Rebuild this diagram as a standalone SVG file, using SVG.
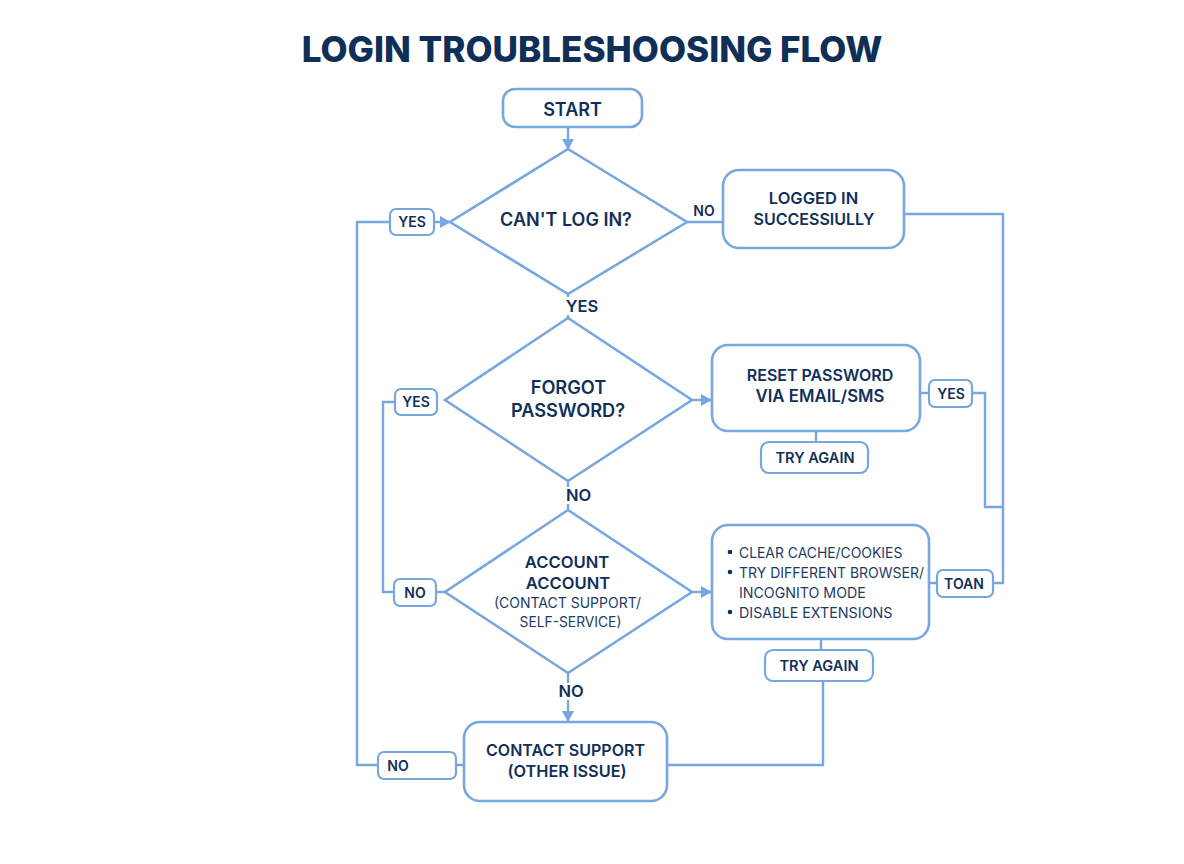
<svg xmlns="http://www.w3.org/2000/svg" width="1184" height="864" viewBox="0 0 1184 864">
<style>
.n{fill:#fff;stroke:#76a7de;stroke-width:2.6}
.l{fill:#fff;stroke:#76a7de;stroke-width:2.2}
.c{fill:none;stroke:#76a7de;stroke-width:2.4}
.a{fill:#76a7de}
text{font-family:Inter,"Liberation Sans",sans-serif;fill:#10305a;text-anchor:middle}
.b{font-weight:600;font-size:16px}
.s{font-weight:600;font-size:14px}
.t{font-weight:600;font-size:14.6px}
.r{font-weight:400;font-size:13.9px;text-anchor:start;fill:#1d3c63}
.q{font-weight:400;font-size:13.8px;fill:#1d3c63}
</style>
<defs><marker id="ah" markerWidth="12" markerHeight="12" refX="10" refY="6" orient="auto" markerUnits="userSpaceOnUse"><path class="a" d="M0 0L11 6L0 12Z"/></marker></defs>
<rect width="1184" height="864" fill="#fff"/>
<text id="title" x="592" y="62" font-size="35.05" font-weight="800" style="fill:#0f2f57">LOGIN TROUBLESHOOSING FLOW</text>
<g id="connectors">
<path class="c" marker-end="url(#ah)" d="M568 127V149"/>
<path class="c" marker-end="url(#ah)" d="M434 222H450"/>
<path class="c" d="M390 222H357V765H378"/>
<path class="c" d="M687 222H723"/>
<path class="c" d="M568 294V318"/>
<path class="c" d="M904 214H1003V583H993"/>
<path class="c" d="M972 393H985V507H1003"/>
<path class="c" d="M919 393H929"/>
<path class="c" marker-end="url(#ah)" d="M692 400H711"/>
<path class="c" d="M816 431V442"/>
<path class="c" d="M568 481V510"/>
<path class="c" d="M395 402H383V592H394"/>
<path class="c" d="M436 592H445"/>
<path class="c" marker-end="url(#ah)" d="M692 592H711"/>
<path class="c" d="M929 583H937"/>
<path class="c" d="M821 639V650"/>
<path class="c" d="M823 681V765H667"/>
<path class="c" marker-end="url(#ah)" d="M568 673V721"/>
<path class="c" d="M456 765H464"/>
</g>
<g id="start"><rect class="n" x="503" y="89" width="139" height="38" rx="12"/><text class="b" x="572.500" y="115.500" style="font-size:18px">START</text></g>
<g id="cant-log-in"><path class="n" d="M568 149L687 222L568 294L450 222Z"/><text class="b" x="566" y="225.500" style="font-size:18px">CAN'T LOG IN?</text></g>
<g id="label-yes-1"><rect class="l" x="390" y="209" width="44" height="26" rx="6"/><text class="s" x="412" y="227">YES</text></g>
<g id="label-no-1"><text class="s" x="704" y="216">NO</text></g>
<g id="logged-in"><rect class="n" x="723" y="170" width="181" height="78" rx="16"/><text class="b" x="813.500" y="204" style="font-size:16.5px">LOGGED IN</text><text class="b" x="814" y="225">SUCCESSIULLY</text></g>
<g id="label-yes-2"><rect x="566" y="297" width="32" height="18" fill="#fff"/><text class="b" x="582" y="312" style="font-size:16.5px">YES</text></g>
<g id="forgot-password"><path class="n" d="M568 318L692 400L568 481L445 400Z"/><text class="b" x="568.500" y="393.500" style="font-size:18.2px">FORGOT</text><text class="b" x="568" y="416.500" style="font-size:18.2px">PASSWORD?</text></g>
<g id="label-yes-3"><rect class="l" x="395" y="389" width="42" height="26" rx="6"/><text class="s" x="416" y="407">YES</text></g>
<g id="reset-password"><rect class="n" x="712" y="345" width="208" height="86" rx="16"/><text class="b" x="820" y="381">RESET PASSWORD</text><text class="b" x="820" y="402" style="font-size:16.8px">VIA EMAIL/SMS</text></g>
<g id="label-yes-4"><rect class="l" x="929" y="380" width="43" height="27" rx="6"/><text class="s" x="951" y="399">YES</text></g>
<g id="try-again-1"><rect class="l" x="761" y="442" width="107" height="31" rx="8"/><text class="t" x="815" y="463">TRY AGAIN</text></g>
<g id="label-no-2"><rect x="566" y="487" width="26" height="17" fill="#fff"/><text class="b" x="578.500" y="501" style="font-size:16.5px">NO</text></g>
<g id="account"><path class="n" d="M568 510L692 592L568 673L445 592Z"/><text class="b" x="567" y="568" style="font-size:16.600px">ACCOUNT</text><text class="b" x="568" y="589" style="font-size:16.600px">ACCOUNT</text><text class="q" x="567.500" y="608" style="font-size:14px">(CONTACT SUPPORT/</text><text class="q" x="570.500" y="627">SELF-SERVICE)</text></g>
<g id="label-no-3"><rect class="l" x="394" y="579" width="42" height="27" rx="6"/><text class="s" x="415" y="598">NO</text></g>
<g id="troubleshoot"><rect class="n" x="712" y="525" width="217" height="114" rx="16"/><circle cx="730" cy="552" r="2.300" fill="#10305a"/><circle cx="730" cy="572" r="2.300" fill="#10305a"/><circle cx="730" cy="612" r="2.300" fill="#10305a"/><text class="r" x="739" y="557.500">CLEAR CACHE/COOKIES</text><text class="r" x="739" y="577.500" style="font-size:14px">TRY DIFFERENT BROWSER/</text><text class="r" x="739" y="597.500" style="font-size:14.2px">INCOGNITO MODE</text><text class="r" x="739" y="617.500" style="font-size:14.3px">DISABLE EXTENSIONS</text></g>
<g id="label-toan"><rect class="l" x="937" y="570" width="56" height="27" rx="6"/><text class="s" x="964" y="589">TOAN</text></g>
<g id="try-again-2"><rect class="l" x="765" y="650" width="108" height="31" rx="8"/><text class="t" x="819" y="671">TRY AGAIN</text></g>
<g id="label-no-4"><rect x="558" y="683" width="26" height="17" fill="#fff"/><text class="b" x="571" y="697" style="font-size:16.5px">NO</text></g>
<g id="contact-support"><rect class="n" x="464" y="722" width="203" height="79" rx="16"/><text class="b" x="565.500" y="756">CONTACT SUPPORT</text><text class="b" x="567" y="777" style="font-size:16.3px">(OTHER ISSUE)</text></g>
<g id="label-no-5"><rect class="l" x="378" y="752" width="78" height="27" rx="6"/><text class="s" x="398" y="770.500">NO</text></g>
</svg>
